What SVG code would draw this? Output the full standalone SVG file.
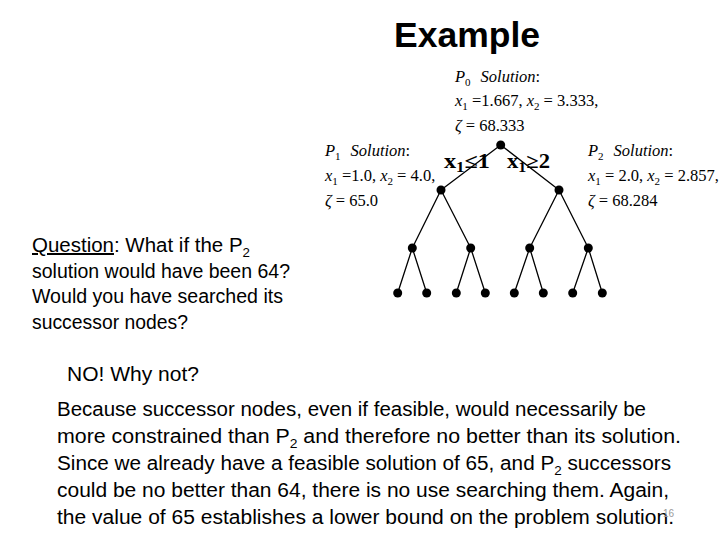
<svg xmlns="http://www.w3.org/2000/svg" width="720" height="540" viewBox="0 0 720 540">
<style>
.t{font-family:"Liberation Sans",Arial,sans-serif;font-size:20px;fill:#000}
.m{font-family:"Liberation Serif","Times New Roman",serif;font-size:16.5px;fill:#000}
.i{font-style:italic}
.s{font-size:11px}
.lb{font-family:"Liberation Serif","Times New Roman",serif;font-size:20px;font-weight:bold;fill:#000}
.e{stroke:#000;stroke-width:1.3;fill:none}
.n{fill:#000}
</style>
<rect width="720" height="540" fill="#fff"/>
<text x="394" y="47" class="t" style="font-size:35px;font-weight:bold" textLength="146" lengthAdjust="spacingAndGlyphs">Example</text>

<g id="p0-label">
<text x="455" y="82" class="m"><tspan class="i">P</tspan><tspan class="s" dy="4">0</tspan><tspan dy="-4" dx="10" class="i">Solution</tspan><tspan>:</tspan></text>
<text x="455" y="106" class="m"><tspan class="i">x</tspan><tspan class="s" dy="4">1</tspan><tspan dy="-4"> =1.667, </tspan><tspan class="i">x</tspan><tspan class="s" dy="4">2</tspan><tspan dy="-4"> = 3.333,</tspan></text>
<text x="455" y="131" class="m"><tspan class="i">ζ</tspan> = 68.333</text>
</g>
<g id="p1-label">
<text x="325" y="156" class="m"><tspan class="i">P</tspan><tspan class="s" dy="4">1</tspan><tspan dy="-4" dx="10" class="i">Solution</tspan><tspan>:</tspan></text>
<text x="325" y="181" class="m"><tspan class="i">x</tspan><tspan class="s" dy="4">1</tspan><tspan dy="-4"> =1.0, </tspan><tspan class="i">x</tspan><tspan class="s" dy="4">2</tspan><tspan dy="-4"> = 4.0,</tspan></text>
<text x="325" y="206" class="m"><tspan class="i">ζ</tspan> = 65.0</text>
</g>
<g id="p2-label">
<text x="588" y="156" class="m"><tspan class="i">P</tspan><tspan class="s" dy="4">2</tspan><tspan dy="-4" dx="10" class="i">Solution</tspan><tspan>:</tspan></text>
<text x="588" y="181" class="m"><tspan class="i">x</tspan><tspan class="s" dy="4">1</tspan><tspan dy="-4"> = 2.0, </tspan><tspan class="i">x</tspan><tspan class="s" dy="4">2</tspan><tspan dy="-4"> = 2.857,</tspan></text>
<text x="588" y="206" class="m"><tspan class="i">ζ</tspan> = 68.284</text>
</g>

<g id="connectors">
<path class="e" d="M500.7,145 L441,190 M500.7,145 L559,190
M441,190 L412.3,248 M441,190 L470.7,248 M559,190 L529.7,248 M559,190 L588.3,248
M412.3,248 L397.7,293 M412.3,248 L426.7,293 M470.7,248 L456.3,293 M470.7,248 L485.3,293
M529.7,248 L514.3,293 M529.7,248 L543.3,293 M588.3,248 L572.7,293 M588.3,248 L602.3,293"/>
</g>
<g id="branch-labels">
<text x="444" y="168" class="lb" textLength="46" lengthAdjust="spacingAndGlyphs">x<tspan style="font-size:14px" dy="4">1</tspan><tspan dy="-4">≤1</tspan></text>
<text x="507" y="168" class="lb" textLength="43" lengthAdjust="spacingAndGlyphs">x<tspan style="font-size:14px" dy="4">1</tspan><tspan dy="-4">≥2</tspan></text>
</g>
<g id="nodes">
<circle id="n0" class="n" cx="500.7" cy="145" r="4.5"/>
<circle id="n1" class="n" cx="441" cy="190" r="4.5"/>
<circle id="n2" class="n" cx="559" cy="190" r="4.5"/>
<circle id="n3" class="n" cx="412.3" cy="248" r="4.5"/>
<circle id="n4" class="n" cx="470.7" cy="248" r="4.5"/>
<circle id="n5" class="n" cx="529.7" cy="248" r="4.5"/>
<circle id="n6" class="n" cx="588.3" cy="248" r="4.5"/>
<circle id="n7" class="n" cx="397.7" cy="293" r="4.5"/>
<circle id="n8" class="n" cx="426.7" cy="293" r="4.5"/>
<circle id="n9" class="n" cx="456.3" cy="293" r="4.5"/>
<circle id="n10" class="n" cx="485.3" cy="293" r="4.5"/>
<circle id="n11" class="n" cx="514.3" cy="293" r="4.5"/>
<circle id="n12" class="n" cx="543.3" cy="293" r="4.5"/>
<circle id="n13" class="n" cx="572.7" cy="293" r="4.5"/>
<circle id="n14" class="n" cx="602.3" cy="293" r="4.5"/>
</g>

<g id="question">
<text x="32" y="252" class="t" textLength="218" lengthAdjust="spacingAndGlyphs"><tspan text-decoration="underline">Question</tspan>: What if the P<tspan class="s" style="font-size:13px" dy="5">2</tspan></text>
<text x="32" y="278" class="t" textLength="258" lengthAdjust="spacingAndGlyphs">solution would have been 64?</text>
<text x="32" y="303" class="t" textLength="251" lengthAdjust="spacingAndGlyphs">Would you have searched its</text>
<text x="32" y="329" class="t" textLength="156" lengthAdjust="spacingAndGlyphs">successor nodes?</text>
</g>
<g id="answer">
<text x="67" y="381" class="t" textLength="132" lengthAdjust="spacingAndGlyphs">NO! Why not?</text>
<text x="57" y="416" class="t" textLength="589" lengthAdjust="spacingAndGlyphs">Because successor nodes, even if feasible, would necessarily be</text>
<text x="57" y="443" class="t" textLength="624" lengthAdjust="spacingAndGlyphs">more constrained than P<tspan style="font-size:13px" dy="5">2</tspan><tspan dy="-5"> and therefore no better than its solution.</tspan></text>
<text x="57" y="470" class="t" textLength="614" lengthAdjust="spacingAndGlyphs">Since we already have a feasible solution of 65, and P<tspan style="font-size:13px" dy="5">2</tspan><tspan dy="-5"> successors</tspan></text>
<text x="57" y="497" class="t" textLength="612" lengthAdjust="spacingAndGlyphs">could be no better than 64, there is no use searching them. Again,</text>
<text x="57" y="524" class="t" textLength="617" lengthAdjust="spacingAndGlyphs">the value of 65 establishes a lower bound on the problem solution.</text>
<text x="663" y="517" style="font-family:'Liberation Sans',Arial,sans-serif;font-size:10px;fill:#999">16</text>
</g>
</svg>
